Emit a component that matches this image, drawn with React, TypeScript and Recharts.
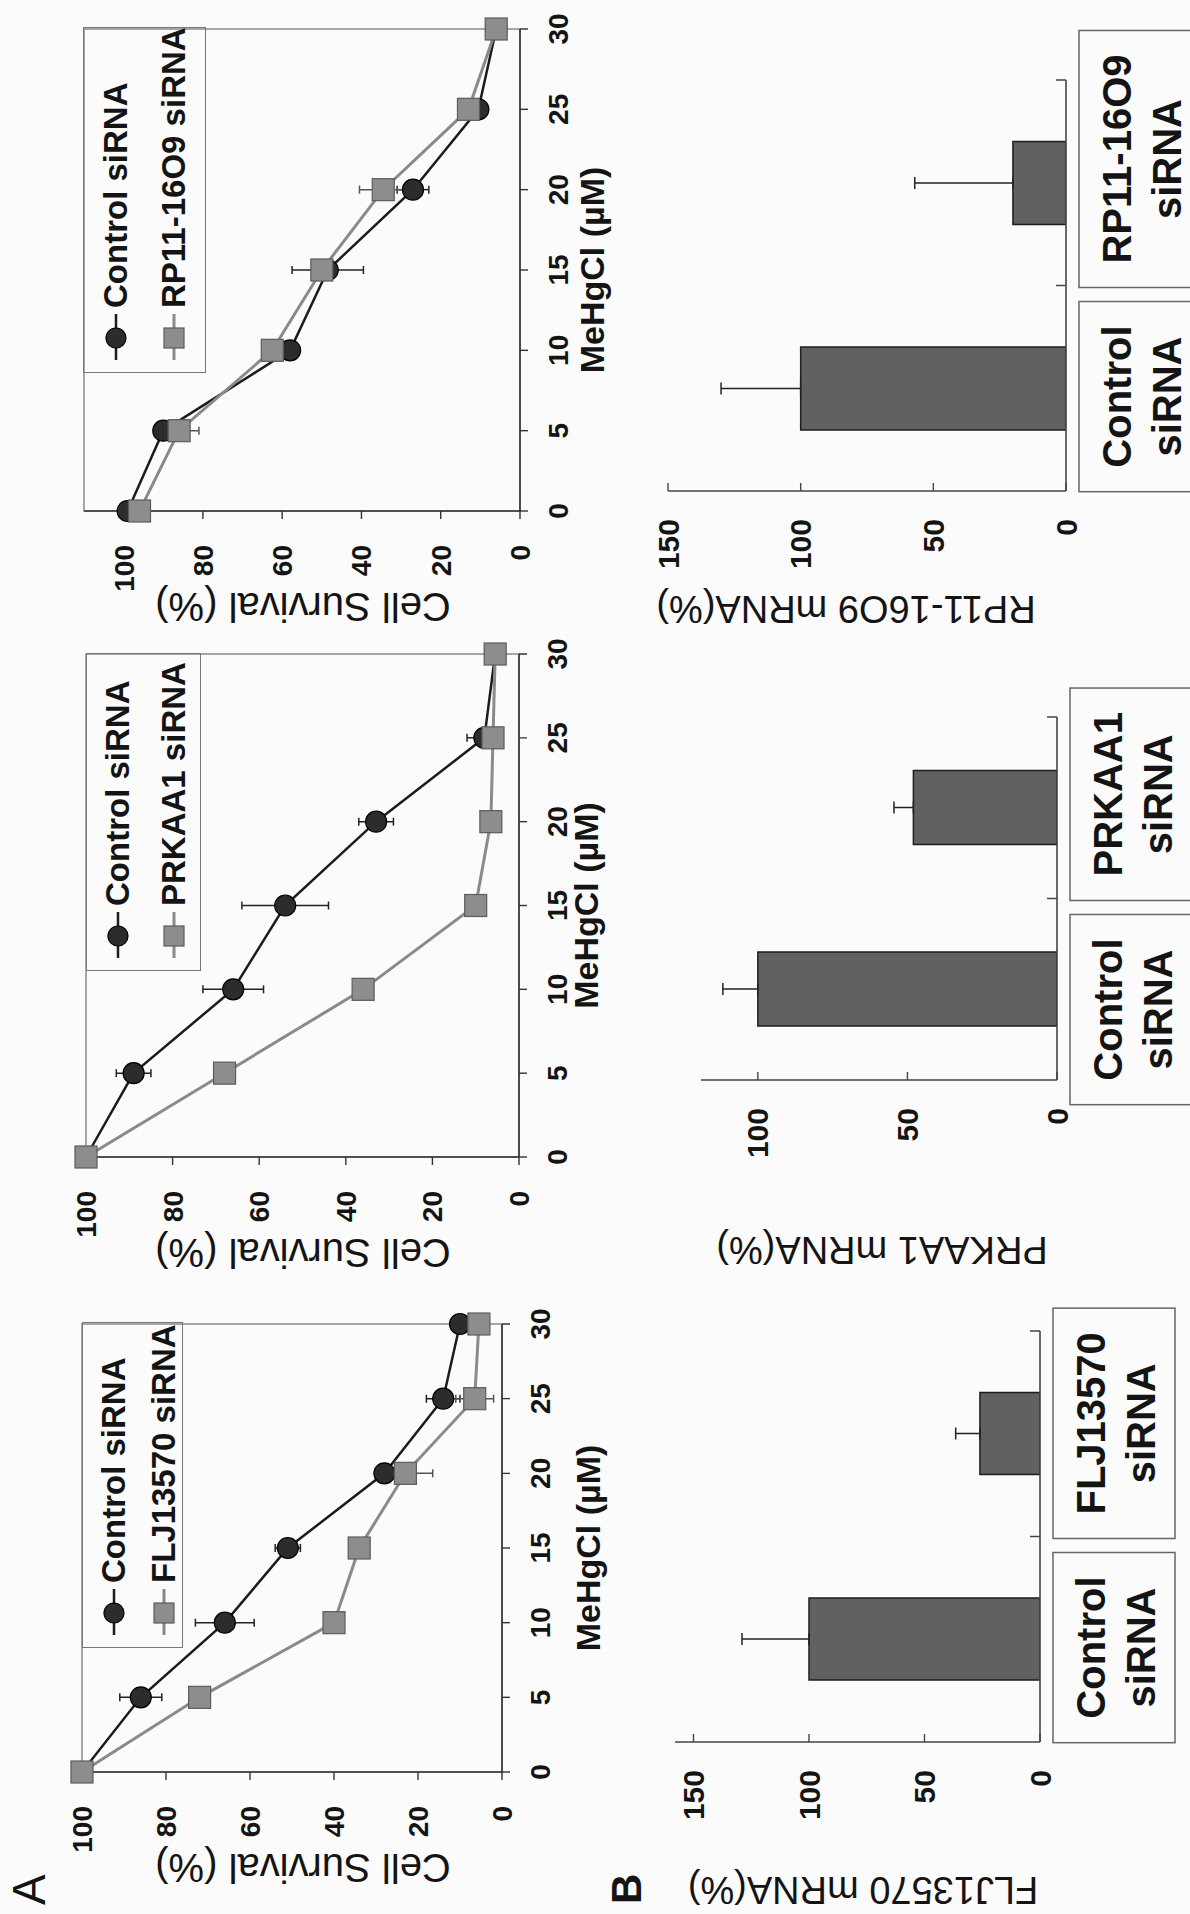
import React from "react";
import {
  LineChart,
  Line,
  BarChart,
  Bar,
  XAxis,
  YAxis,
  ErrorBar,
  ReferenceArea,
} from "recharts";

// --- Data ---

const doses = [0, 5, 10, 15, 20, 25, 30];
const doseTicks = [0, 5, 10, 15, 20, 25, 30];
const survivalTicks = [0, 20, 40, 60, 80, 100];

// FLJ13570 panel
const fljControl = [100, 86, 66, 51, 28, 14, 10];
const fljControlErr = [0, 5, 7, 3, 2, 4, 0];
const fljKnockdown = [100, 72, 40, 34, 23, 6.5, 5.5];
const fljKnockdownErr = [0, 2, 0, 0, 6.5, 4.5, 0];

// PRKAA1 panel
const prkControl = [100, 89, 66, 54, 33, 8, 5.5];
const prkControlErr = [0, 4, 7, 10, 4, 4, 0];
const prkKnockdown = [100, 68, 36, 10, 6.5, 6, 5.5];
const prkKnockdownErr = [0, 0, 0, 0, 0, 0, 0];

// RP11-16O9 panel
const rpControl = [99, 90, 58, 48.5, 27, 10.5, 6];
const rpControlErr = [0, 0, 0, 9, 4, 0, 0];
const rpKnockdown = [96, 86, 62.5, 50, 34.5, 13, 6];
const rpKnockdownErr = [0, 5, 2, 0, 6, 0, 0];

// mRNA bars
const fljBarNames = ["Control siRNA", "FLJ13570 siRNA"];
const fljBarValues = [100, 26];
const fljBarErr = [29, 10.5];
const prkBarNames = ["Control siRNA", "PRKAA1 siRNA"];
const prkBarValues = [100, 48];
const prkBarErr = [11.7, 6.5];
const rpBarNames = ["Control siRNA", "RP11-16O9 siRNA"];
const rpBarValues = [100, 20];
const rpBarErr = [30, 37];
const mrnaTicks150 = [0, 50, 100, 150];
const mrnaTicks100 = [0, 50, 100];

// --- Styles ---

const FONT = '"Liberation Sans", Arial, Helvetica, sans-serif';
const INK = "#141414";
const CIRCLE_FILL = "#2c2c2c";
const SQUARE_FILL = "#8d8d8d";
const BAR_FILL = "#616161";
const CAT_FS = 40;
const BOX_H = 122;

let measureCtx: CanvasRenderingContext2D | null = null;
function textWidth(s: string, font: string) {
  if (!measureCtx) measureCtx = document.createElement("canvas").getContext("2d");
  if (!measureCtx) return s.length * 24;
  measureCtx.font = font;
  return measureCtx.measureText(s).width;
}

function AxisTitle(props: any) {
  const { tx, ty, title, rot, fs, fw } = props;
  return (
    <text
      x={tx}
      y={ty}
      transform={rot ? `rotate(${rot} ${tx} ${ty})` : undefined}
      textAnchor="middle"
      dominantBaseline="central"
      fontSize={fs}
      fontWeight={fw}
      fontFamily={FONT}
      fill={INK}
    >
      {title}
    </text>
  );
}

const circleDot = (p: any) => (
  <circle key={`c${p.index}`} cx={p.cx} cy={p.cy} r={10.5} fill={CIRCLE_FILL} stroke="#000" strokeWidth={1.2} />
);
const squareDot = (p: any) => (
  <rect key={`s${p.index}`} x={p.cx - 11} y={p.cy - 11} width={22} height={22} fill={SQUARE_FILL} stroke="#5c5c5c" strokeWidth={1.2} />
);

function LegendBox({ box, kdName }: any) {
  const rows = [
    { name: "Control siRNA", line: "#1c1c1c", kind: "circle", cy: box.rowA },
    { name: kdName, line: "#8a8a8a", kind: "square", cy: box.rowB },
  ];
  return (
    <div
      style={{
        position: "absolute",
        left: box.x,
        top: box.y,
        width: box.w,
        height: box.h,
        border: "1.5px solid #777",
        boxSizing: "border-box",
      }}
    >
      {rows.map((r) => (
        <div key={r.name} style={{ position: "absolute", left: 0, top: r.cy - 20, height: 40, display: "flex", alignItems: "center" }}>
          <svg width={60} height={40} style={{ display: "block", marginLeft: 8 }}>
            <line x1={4} x2={50} y1={20} y2={20} stroke={r.line} strokeWidth={r.kind === "circle" ? 2.5 : 3} />
            {r.kind === "circle" ? (
              <circle cx={26} cy={20} r={10} fill={CIRCLE_FILL} stroke="#000" strokeWidth={1.2} />
            ) : (
              <rect x={16} y={10} width={20} height={20} fill={SQUARE_FILL} stroke="#5c5c5c" strokeWidth={1.2} />
            )}
          </svg>
          <span style={{ fontFamily: FONT, fontWeight: 700, fontSize: 33, color: INK, whiteSpace: "nowrap", marginLeft: -4 }}>
            {r.name}
          </span>
        </div>
      ))}
    </div>
  );
}

function SurvivalChart({ rect, yMax, control, controlErr, knockdown, knockdownErr, kdName, legend, xTitleCy }: any) {
  const YW = 140;
  const MT = 30;
  const MR = 40;
  const XH = 130;
  const plotW = rect.x1 - rect.x0;
  const plotH = rect.y1 - rect.y0;
  const left = rect.x0 - YW;
  const top = rect.y0 - MT;
  const width = YW + plotW + MR;
  const height = MT + plotH + XH;
  const rows = doses.map((d, i) => ({
    dose: d,
    control: control[i],
    controlErr: controlErr[i],
    knockdown: knockdown[i],
    knockdownErr: knockdownErr[i],
  }));
  return (
    <div style={{ position: "absolute", left, top, width, height }}>
      <LineChart width={width} height={height} data={rows} margin={{ top: MT, right: MR, left: 0, bottom: 0 }}>
        <ReferenceArea x1={0} x2={30} y1={0} y2={yMax} fill="none" stroke="#8a8a8a" strokeWidth={1.5} ifOverflow="visible" />
        <XAxis
          type="number"
          dataKey="dose"
          domain={[0, 30]}
          ticks={doseTicks}
          height={XH}
          tickSize={8}
          tickMargin={20}
          axisLine={{ stroke: "#333", strokeWidth: 1.6 }}
          tickLine={{ stroke: "#333", strokeWidth: 1.4 }}
          tick={{ fill: INK, fontSize: 28, fontWeight: 700, fontFamily: FONT }}
          label={<AxisTitle tx={YW + plotW / 2} ty={xTitleCy - top} title="MeHgCl (µM)" fs={34} fw={700} />}
        />
        <YAxis
          type="number"
          domain={[0, yMax]}
          ticks={survivalTicks}
          width={YW}
          tickSize={8}
          tickMargin={26}
          axisLine={{ stroke: "#333", strokeWidth: 1.6 }}
          tickLine={{ stroke: "#333", strokeWidth: 1.4 }}
          tick={{ fill: INK, fontSize: 28, fontWeight: 700, fontFamily: FONT }}
          label={<AxisTitle tx={YW - 96} ty={303 - top} rot={-90} title="Cell Survival (%)" fs={40} fw={400} />}
        />
        <Line dataKey="control" stroke="#1c1c1c" strokeWidth={2.5} dot={circleDot} isAnimationActive={false}>
          <ErrorBar dataKey="controlErr" width={4} stroke="#222" strokeWidth={1.5} direction="y" />
        </Line>
        <Line dataKey="knockdown" stroke="#8a8a8a" strokeWidth={3} dot={squareDot} isAnimationActive={false}>
          <ErrorBar dataKey="knockdownErr" width={4} stroke="#555" strokeWidth={1.5} direction="y" />
        </Line>
      </LineChart>
      <LegendBox box={{ ...legend, x: legend.x - left, y: legend.y - top }} kdName={kdName} />
    </div>
  );
}

function CategoryTick(props: any) {
  const { payload, index, plotBottom, bandW } = props;
  const cx = payload.coordinate;
  const lines = String(payload.value).split(" ");
  const font = `bold ${CAT_FS}px ${FONT}`;
  const w = Math.max(...lines.map((l) => textWidth(l, font))) + 48;
  const boundary = index === 0 ? cx + bandW / 2 : cx - bandW / 2;
  const bx = index === 0 ? boundary - 16 - w : boundary - 2;
  const by = plotBottom + 13;
  return (
    <g>
      <line x1={cx + bandW / 2} x2={cx + bandW / 2} y1={plotBottom} y2={plotBottom - 10} stroke="#444" strokeWidth={1.5} />
      <rect x={bx} y={by} width={w} height={BOX_H} fill="none" stroke="#666" strokeWidth={1.5} />
      {lines.map((l, i) => (
        <text
          key={l}
          x={bx + w / 2}
          y={by + 52 + i * 50}
          textAnchor="middle"
          fontSize={CAT_FS}
          fontWeight={700}
          fontFamily={FONT}
          fill={INK}
        >
          {l}
        </text>
      ))}
    </g>
  );
}

function MrnaChart({ rect, yMax, ticks, names, values, errs, barSize, title, titleOffset, titleCy }: any) {
  const YW = 200;
  const MT = 30;
  const MR = 90;
  const XH = 150;
  const plotW = rect.x1 - rect.x0;
  const plotH = rect.y1 - rect.y0;
  const left = rect.x0 - YW;
  const top = rect.y0 - MT;
  const width = YW + plotW + MR;
  const height = MT + plotH + XH;
  const rows = names.map((name: string, i: number) => ({ name, value: values[i], err: [0, errs[i]] }));
  return (
    <div style={{ position: "absolute", left, top, width, height }}>
      <BarChart width={width} height={height} data={rows} margin={{ top: MT, right: MR, left: 0, bottom: 0 }}>
        <XAxis
          dataKey="name"
          height={XH}
          interval={0}
          tickLine={false}
          axisLine={{ stroke: "#444", strokeWidth: 1.6 }}
          tick={(p: any) => <CategoryTick {...p} plotBottom={MT + plotH} bandW={plotW / 2} />}
        />
        <YAxis
          type="number"
          domain={[0, yMax]}
          ticks={ticks}
          allowDataOverflow
          width={YW}
          tickSize={-8}
          tickMargin={36}
          axisLine={{ stroke: "#444", strokeWidth: 1.6 }}
          tickLine={{ stroke: "#444", strokeWidth: 1.4 }}
          tick={{ fill: INK, fontSize: 30, fontWeight: 700, fontFamily: FONT }}
          label={<AxisTitle tx={YW - titleOffset} ty={titleCy - top} rot={-90} title={title} fs={38} fw={400} />}
        />
        <Bar dataKey="value" fill={BAR_FILL} stroke="#1e1e1e" strokeWidth={1.5} barSize={barSize} isAnimationActive={false}>
          <ErrorBar dataKey="err" width={6} stroke="#222" strokeWidth={1.5} direction="y" />
        </Bar>
      </BarChart>
    </div>
  );
}

export default function App() {
  return (
    <div
      style={{
        position: "absolute",
        left: 0,
        top: 0,
        width: 1190,
        height: 1914,
        overflow: "hidden",
        background: "#fbfbfb",
      }}
    >
      {/* figure is laid out landscape, then turned a quarter turn counter-clockwise */}
      <div
        style={{
          position: "absolute",
          left: 0,
          top: 0,
          width: 1914,
          height: 1190,
          transformOrigin: "0 0",
          transform: "translate(0px, 1914px) rotate(-90deg)",
          fontFamily: FONT,
        }}
      >
        <div style={{ position: "absolute", left: 9, top: 6, fontSize: 46, color: INK, lineHeight: 1 }}>A</div>
        <div style={{ position: "absolute", left: 10, top: 606, fontSize: 42, fontWeight: 700, color: INK, lineHeight: 1 }}>B</div>

        <SurvivalChart
          rect={{ x0: 142, x1: 590, y0: 82, y1: 502 }}
          yMax={100}
          control={fljControl}
          controlErr={fljControlErr}
          knockdown={fljKnockdown}
          knockdownErr={fljKnockdownErr}
          kdName="FLJ13570 siRNA"
          legend={{ x: 266, y: 82, w: 326, h: 101, rowA: 31, rowB: 81 }}
          xTitleCy={588}
        />
        <SurvivalChart
          rect={{ x0: 757, x1: 1260, y0: 86, y1: 519 }}
          yMax={100}
          control={prkControl}
          controlErr={prkControlErr}
          knockdown={prkKnockdown}
          knockdownErr={prkKnockdownErr}
          kdName="PRKAA1 siRNA"
          legend={{ x: 943, y: 86, w: 318, h: 115, rowA: 31, rowB: 87 }}
          xTitleCy={586}
        />
        <SurvivalChart
          rect={{ x0: 1403, x1: 1885, y0: 84, y1: 520 }}
          yMax={110}
          control={rpControl}
          controlErr={rpControlErr}
          knockdown={rpKnockdown}
          knockdownErr={rpKnockdownErr}
          kdName="RP11-16O9 siRNA"
          legend={{ x: 1541, y: 83, w: 346, h: 123, rowA: 32, rowB: 90 }}
          xTitleCy={592}
        />

        <MrnaChart
          rect={{ x0: 172, x1: 583, y0: 675, y1: 1040 }}
          yMax={158}
          ticks={mrnaTicks150}
          names={fljBarNames}
          values={fljBarValues}
          errs={fljBarErr}
          barSize={82}
          title="FLJ13570  mRNA(%)"
          titleOffset={148}
          titleCy={863}
        />
        <MrnaChart
          rect={{ x0: 834, x1: 1197, y0: 701, y1: 1057 }}
          yMax={119}
          ticks={mrnaTicks100}
          names={prkBarNames}
          values={prkBarValues}
          errs={prkBarErr}
          barSize={74}
          title="PRKAA1  mRNA(%)"
          titleOffset={170}
          titleCy={882}
        />
        <MrnaChart
          rect={{ x0: 1423, x1: 1834, y0: 668, y1: 1066 }}
          yMax={150}
          ticks={mrnaTicks150}
          names={rpBarNames}
          values={rpBarValues}
          errs={rpBarErr}
          barSize={83}
          title="RP11-16O9  mRNA(%)"
          titleOffset={118}
          titleCy={846}
        />
      </div>
    </div>
  );
}
